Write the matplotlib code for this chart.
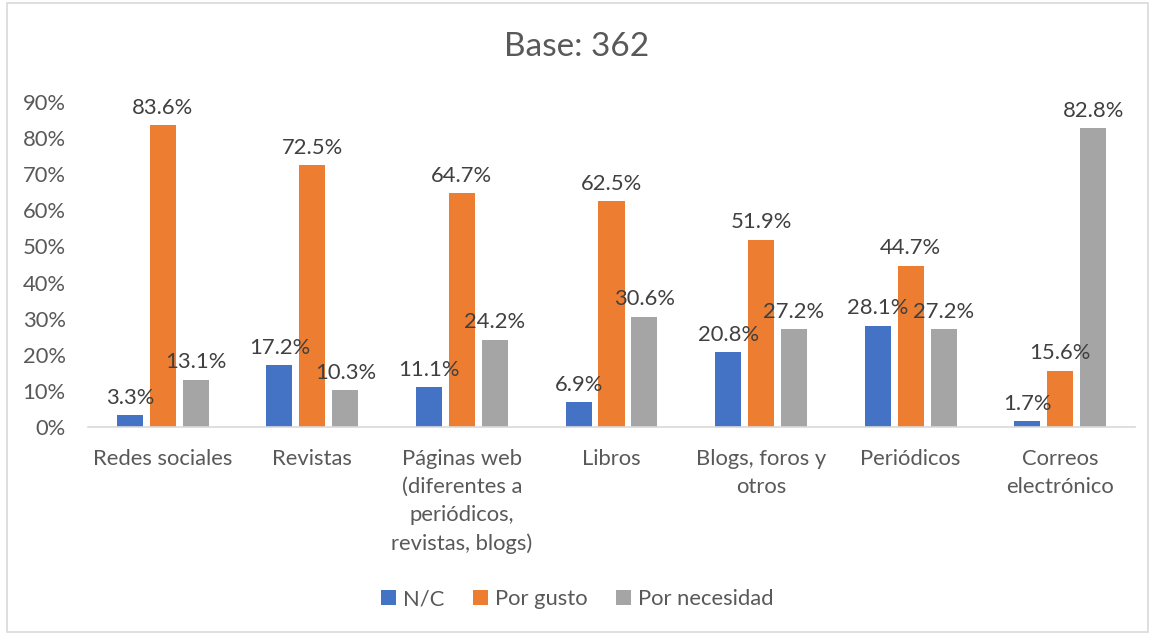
import matplotlib
matplotlib.use("Agg")
import matplotlib.pyplot as plt
import numpy as np
from matplotlib.patches import Rectangle

categories = ["Redes sociales", "Revistas",
              "Páginas web\n(diferentes a\nperiódicos,\nrevistas, blogs)",
              "Libros", "Blogs, foros y\notros", "Periódicos", "Correos\nelectrónico"]
series_names = ["N/C", "Por gusto", "Por necesidad"]
nc = [3.3, 17.2, 11.1, 6.9, 20.8, 28.1, 1.7]
gusto = [83.6, 72.5, 64.7, 62.5, 51.9, 44.7, 15.6]
necesidad = [13.1, 10.3, 24.2, 30.6, 27.2, 27.2, 82.8]
colors = ["#4472C4", "#ED7D31", "#A5A5A5"]
yticks = [0, 10, 20, 30, 40, 50, 60, 70, 80, 90]

plt.rcParams['font.family'] = ['Lato', 'DejaVu Sans']
txt = "#595959"
fs = 15.8

fig = plt.figure(figsize=(11.54, 6.34), dpi=100)
ax = fig.add_axes([88/1154, 1-427/634, (1135-88)/1154, (427-102)/634])

x = np.arange(len(categories))
w = 0.174
off = 0.22
for i, (vals, col, name) in enumerate(zip([nc, gusto, necesidad], colors, series_names)):
    bars = ax.bar(x + (i-1)*off, vals, width=w, color=col, label=name, zorder=2)
    for b, v in zip(bars, vals):
        ax.text(b.get_x()+b.get_width()/2, v + 2.0, f"{v:.1f}%", ha='center', va='bottom',
                fontsize=fs, color="#404040")

ax.set_xlim(-0.5, len(categories)-0.5)
ax.set_ylim(0, 90)
ax.set_yticks(yticks)
ax.set_yticklabels([f"{t}%" for t in yticks], fontsize=fs, color=txt)
ax.set_xticks(x)
ax.set_xticklabels(categories, fontsize=fs, color=txt, linespacing=1.5, va='top')
ax.tick_params(axis='both', length=0)
ax.tick_params(axis='x', pad=16)
ax.tick_params(axis='y', pad=16)
for s in ['top', 'right', 'left']:
    ax.spines[s].set_visible(False)
ax.spines['bottom'].set_color('#D9D9D9')
ax.spines['bottom'].set_linewidth(1.2)

fig.text(0.5, 1-47/634, "Base: 362", ha='center', va='center', fontsize=24, color=txt)

handles, labels = ax.get_legend_handles_labels()
fig.legend(handles, labels, loc='center', bbox_to_anchor=(0.5, 1-599/634), ncol=3,
           frameon=False, fontsize=fs, labelcolor=txt, handlelength=0.7, handleheight=0.7,
           handletextpad=0.3, columnspacing=1.3)

fig.patches.append(Rectangle((7/1154, 2/634), 1141/1154, 629/634, transform=fig.transFigure,
                             fill=False, edgecolor='#D9D9D9', linewidth=1.2))

fig.savefig("out.png", dpi=100)
